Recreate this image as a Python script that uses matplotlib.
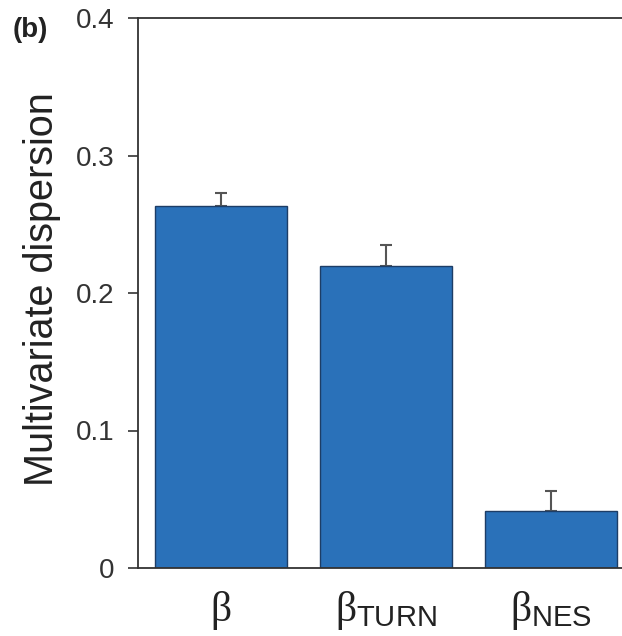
import matplotlib
matplotlib.use("Agg")
import matplotlib.pyplot as plt

plt.rcParams['font.family'] = ['Liberation Sans', 'DejaVu Sans']
plt.rcParams['mathtext.fontset'] = 'custom'
plt.rcParams['mathtext.it'] = 'Liberation Serif'
plt.rcParams['mathtext.rm'] = 'Liberation Serif'
plt.rcParams['mathtext.sf'] = 'Liberation Sans'

categories = [r'$\beta$', r'$\beta_{\mathsf{TURN}}$', r'$\beta_{\mathsf{NES}}$']
values = [0.263, 0.2195, 0.0417]
errors = [0.0095, 0.0155, 0.0145]
yticks = [0, 0.1, 0.2, 0.3, 0.4]
yticklabels = ['0', '0.1', '0.2', '0.3', '0.4']

fig = plt.figure(figsize=(6.22, 6.36), dpi=100)
ax = fig.add_axes([138/622, 68/636, 495/622, 550/636])

x = range(len(categories))
ax.bar(x, values, width=0.8, color='#2a71b9', edgecolor='#1d3d66', linewidth=1.0, zorder=2)
ax.errorbar(x, values, yerr=[[0]*len(errors), errors], fmt='none', ecolor='#555555',
            elinewidth=1.5, capsize=4.5, capthick=1.5, zorder=1)

ax.set_xlim(-0.5, 2.5)
ax.set_ylim(0, 0.4)
ax.set_yticks(yticks)
ax.set_yticklabels(yticklabels, fontsize=20, color='#333333')
ax.set_xticks(list(x))
ax.set_xticklabels(categories, fontsize=30, color='#222222')
ax.tick_params(axis='y', direction='out', length=7, width=1.2, color='#333333', pad=10)
ax.tick_params(axis='x', length=0, pad=15)

for s in ['left', 'top', 'bottom']:
    ax.spines[s].set_color('#333333')
    ax.spines[s].set_linewidth(1.3)
ax.spines['right'].set_visible(False)

ax.set_ylabel('Multivariate dispersion', fontsize=28.5, color='#222222')
ax.yaxis.set_label_coords((61 - 138)/495, 0.507)

fig.text(13/622, 1 - 30/636, '(b)', fontsize=20, fontweight='bold', va='center', ha='left', color='#222222')

fig.savefig('out.png', dpi=100)
